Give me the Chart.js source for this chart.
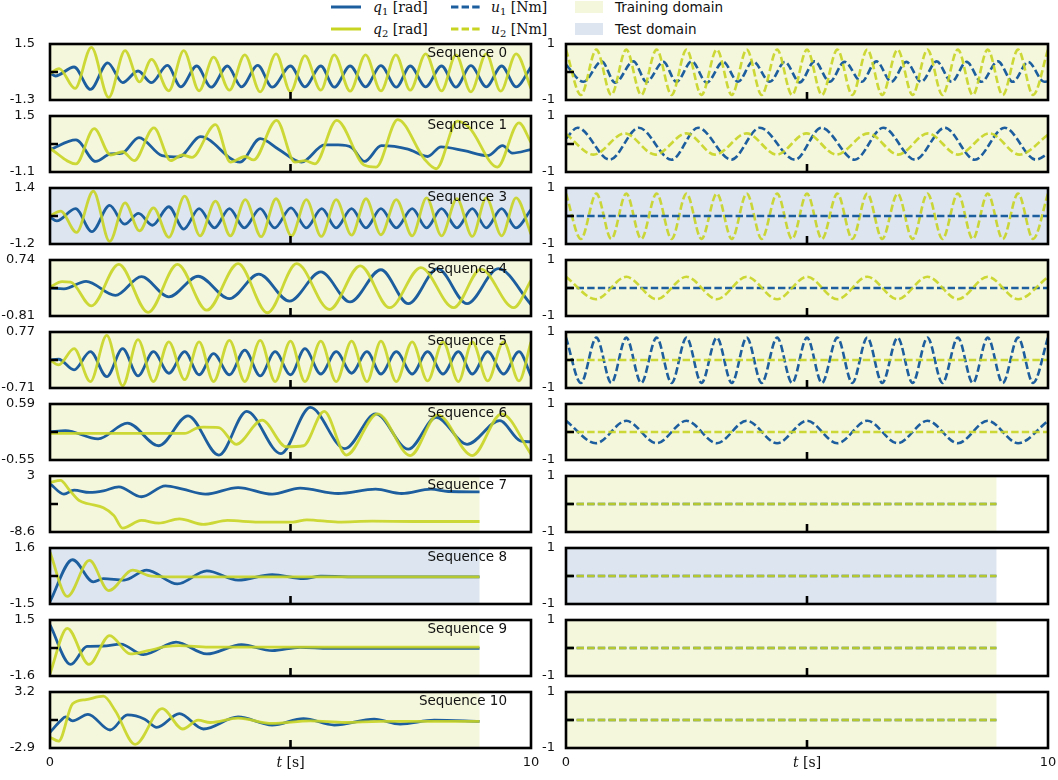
<!DOCTYPE html>
<html lang="en">
<head>
<meta charset="UTF-8">
<title>Double pendulum sequences</title>
<script src="https://cdn.jsdelivr.net/npm/chart.js@4.4.0/dist/chart.umd.min.js"></script>
<style>
    body {
        margin: 0;
        width: 1058px;
        height: 780px;
        position: relative;
        overflow: hidden;
        background: #fff;
        font-family: 'DejaVu Sans', sans-serif;
    }
    canvas { position: absolute; }
    .leg {
        position: absolute;
        height: 16px;
        line-height: 16px;
        font-size: 13.5px;
        color: #111;
        white-space: nowrap;
    }
    .math { font-family: 'DejaVu Serif', serif; font-size: 14px; }
    .math sub { font-size: 10px; vertical-align: -3px; line-height: 0; }
    .sw { position: absolute; }
    .box { position: absolute; width: 28px; height: 12px; }
</style>
</head>
<body>
<!-- legend -->
<svg class="sw" style="left:331px;top:5px" width="30" height="4"><line x1="0" y1="2" x2="30" y2="2" stroke="#1c5e9e" stroke-width="3"/></svg>
<div class="leg math" style="left:373px;top:-1px"><i>q</i><sub>1</sub> [rad]</div>
<svg class="sw" style="left:451px;top:5px" width="30" height="4"><line x1="0" y1="2" x2="30" y2="2" stroke="#1c5e9e" stroke-width="3" stroke-dasharray="7.4 3.2"/></svg>
<div class="leg math" style="left:491px;top:-1px"><i>u</i><sub>1</sub> [Nm]</div>
<div class="box" style="left:575px;top:1px;background:#f5f7dc"></div>
<div class="leg" style="left:615px;top:-1px">Training domain</div>

<svg class="sw" style="left:331px;top:27px" width="30" height="4"><line x1="0" y1="2" x2="30" y2="2" stroke="#c8d422" stroke-width="3"/></svg>
<div class="leg math" style="left:373px;top:21px"><i>q</i><sub>2</sub> [rad]</div>
<svg class="sw" style="left:451px;top:27px" width="30" height="4"><line x1="0" y1="2" x2="30" y2="2" stroke="#c8d422" stroke-width="3" stroke-dasharray="7.4 3.2"/></svg>
<div class="leg math" style="left:491px;top:21px"><i>u</i><sub>2</sub> [Nm]</div>
<div class="box" style="left:575px;top:23px;background:#dde6f0"></div>
<div class="leg" style="left:615px;top:21px">Test domain</div>

<script>
    // ---- data (t [s], value) ----
    const seqNames = ['Sequence 0', 'Sequence 1', 'Sequence 3', 'Sequence 4', 'Sequence 5',
                      'Sequence 6', 'Sequence 7', 'Sequence 8', 'Sequence 9', 'Sequence 10'];
    const domains = ['train', 'train', 'test', 'train', 'train', 'train', 'train', 'test', 'train', 'train'];
    const tEnd = [10, 10, 10, 10, 10, 10, 8.93, 8.93, 8.93, 8.93];
    const qMax = [1.5, 1.5, 1.4, 0.74, 0.77, 0.59, 3, 1.6, 1.5, 3.2];
    const qMin = [-1.3, -1.1, -1.2, -0.81, -0.71, -0.55, -8.6, -1.5, -1.6, -2.9];
    const uMax = 1;
    const uMin = -1;

    const q1Seq0 = [[0,0.05],[0.11,-0.10],[0.50,0.35],[0.84,-0.77],[1.20,0.56],[1.51,-0.43],[1.83,0.15],[2.11,-0.43],[2.44,0.43],[2.72,-0.64],[3.05,0.40],[3.35,-0.66],[3.69,0.40],[3.98,-0.64],[4.32,0.43],[4.62,-0.66],[5.00,0.40],[5.30,-0.64],[5.63,0.40],[5.91,-0.66],[6.24,0.40],[6.56,-0.64],[6.88,0.42],[7.20,-0.66],[7.49,0.40],[7.81,-0.64],[8.14,0.40],[8.44,-0.66],[8.75,0.42],[9.07,-0.64],[9.39,0.40],[9.69,-0.64],[10,0.35]];
    const q2Seq0 = [[0,0.02],[0.19,0.27],[0.52,-0.72],[0.86,1.33],[1.22,-1.17],[1.56,1.17],[1.86,-0.39],[2.11,0.73],[2.47,-0.84],[2.78,1.17],[3.10,-0.84],[3.40,0.84],[3.73,-0.81],[4.05,0.96],[4.37,-0.89],[4.70,1.01],[5.00,-0.89],[5.30,0.92],[5.63,-0.81],[5.91,0.96],[6.24,-0.86],[6.56,0.96],[6.88,-0.84],[7.19,0.96],[7.49,-0.81],[7.81,1.01],[8.14,-0.84],[8.44,0.96],[8.75,-0.89],[9.07,1.01],[9.37,-0.86],[9.69,1.01],[10,-0.72]];

    const q1Seq1 = [[0,-0.06],[0.54,0.39],[0.95,-0.61],[1.26,-0.26],[1.50,-0.22],[1.85,0.50],[2.33,-0.34],[2.68,-0.40],[3.13,0.54],[3.95,-0.64],[4.37,0.45],[4.75,-0.04],[5.23,-0.64],[5.71,0.16],[5.99,0.16],[6.27,0.04],[6.54,-0.61],[6.89,0.12],[7.44,-0.04],[7.85,-0.38],[8.13,0.07],[8.61,-0.11],[9.10,-0.34],[9.41,0.12],[9.61,-0.22],[10,-0.06]];
    const q2Seq1 = [[0,-0.01],[0.54,-0.72],[0.92,0.91],[1.26,-0.31],[1.51,-0.16],[1.75,-0.57],[2.16,0.95],[2.51,-0.57],[2.75,-0.31],[2.95,-0.42],[3.44,1.10],[3.75,-0.64],[4.06,-0.38],[4.23,-0.54],[4.71,1.30],[5.09,-0.64],[5.30,-0.57],[5.51,-0.72],[5.96,1.30],[6.54,-0.79],[6.78,-0.87],[7.23,1.33],[7.78,-0.49],[8.03,-0.95],[8.47,1.26],[8.72,0.95],[9.30,-0.87],[9.75,1.18],[10,0.27]];

    const q1Seq3 = [[0,0.05],[0.14,-0.13],[0.53,0.44],[0.87,-0.63],[1.24,0.59],[1.55,-0.28],[1.84,0.22],[2.13,-0.33],[2.47,0.53],[2.78,-0.51],[3.10,0.44],[3.42,-0.45],[3.73,0.44],[4.04,-0.45],[4.37,0.44],[4.67,-0.45],[5.01,0.48],[5.33,-0.45],[5.65,0.44],[5.95,-0.45],[6.27,0.44],[6.57,-0.45],[6.88,0.44],[7.20,-0.45],[7.53,0.44],[7.83,-0.45],[8.14,0.44],[8.46,-0.45],[8.78,0.44],[9.07,-0.45],[9.39,0.44],[9.69,-0.45],[10,0.40]];
    const q2Seq3 = [[0,0.10],[0.22,0.33],[0.55,-0.66],[0.90,1.25],[1.24,-1.08],[1.56,0.71],[1.86,-0.59],[2.15,0.48],[2.47,-0.89],[2.80,1.02],[3.12,-0.82],[3.44,0.79],[3.75,-0.82],[4.06,0.86],[4.39,-0.86],[4.70,0.90],[5.02,-0.82],[5.33,0.86],[5.64,-0.85],[5.95,0.86],[6.27,-0.79],[6.57,0.90],[6.88,-0.77],[7.20,0.86],[7.53,-0.82],[7.83,0.94],[8.14,-0.82],[8.46,0.90],[8.78,-0.85],[9.07,0.94],[9.39,-0.82],[9.69,0.94],[10,-0.74]];

    const q1Seq4 = [[0,-0.04],[0.29,-0.06],[0.75,0.15],[1.36,-0.24],[1.90,0.28],[2.47,-0.28],[3.08,0.29],[3.73,-0.33],[4.34,0.35],[4.98,-0.40],[5.63,0.41],[6.24,-0.42],[6.88,0.47],[7.45,-0.47],[8.06,0.50],[8.67,-0.47],[9.32,0.50],[10,-0.49]];
    const q2Seq4 = [[0,-0.01],[0.25,0.14],[0.43,0.13],[0.86,-0.53],[1.43,0.62],[2.04,-0.71],[2.65,0.62],[3.26,-0.65],[3.91,0.64],[4.52,-0.72],[5.13,0.64],[5.81,-0.63],[6.45,0.58],[7.06,-0.58],[7.71,0.53],[8.39,-0.58],[8.96,0.49],[9.64,-0.58],[10,0.17]];

    const q1Seq5 = [[0,0.03],[0.18,0.05],[0.50,-0.23],[0.84,0.25],[1.18,-0.41],[1.51,0.33],[1.83,-0.39],[2.15,0.25],[2.47,-0.32],[2.80,0.25],[3.10,-0.36],[3.40,0.20],[3.73,-0.36],[4.05,0.29],[4.37,-0.39],[4.68,0.25],[5.00,-0.36],[5.30,0.33],[5.63,-0.34],[5.95,0.25],[6.27,-0.32],[6.59,0.25],[6.88,-0.34],[7.20,0.25],[7.53,-0.34],[7.85,0.25],[8.17,-0.34],[8.49,0.25],[8.78,-0.34],[9.10,0.25],[9.43,-0.34],[9.75,0.25],[10,-0.39]];
    const q2Seq5 = [[0,0.03],[0.18,-0.10],[0.50,0.33],[0.84,-0.54],[1.18,0.68],[1.51,-0.65],[1.83,0.57],[2.15,-0.54],[2.47,0.51],[2.80,-0.49],[3.10,0.51],[3.40,-0.54],[3.73,0.55],[4.05,-0.54],[4.37,0.55],[4.68,-0.54],[5.00,0.53],[5.30,-0.54],[5.63,0.53],[5.95,-0.54],[6.27,0.53],[6.59,-0.54],[6.88,0.53],[7.20,-0.54],[7.53,0.51],[7.85,-0.52],[8.17,0.51],[8.49,-0.54],[8.78,0.51],[9.10,-0.52],[9.43,0.51],[9.75,-0.52],[10,0.51]];

    const q1Seq6 = [[0,0.02],[0.32,0.05],[1.00,-0.12],[1.61,0.20],[2.26,-0.26],[2.87,0.35],[3.51,-0.45],[4.09,0.44],[4.80,-0.42],[5.41,0.52],[6.13,-0.32],[6.77,0.39],[7.45,-0.33],[8.03,0.32],[8.67,-0.23],[9.35,0.25],[9.78,-0.16],[10,-0.18]];
    const q2Seq6 = [[0,-0.01],[1.00,-0.01],[2.00,-0.01],[2.80,-0.01],[3.05,0.10],[3.19,0.12],[3.51,0.11],[3.87,-0.23],[4.41,0.26],[4.91,-0.28],[5.27,-0.26],[5.70,0.44],[6.16,-0.45],[6.81,0.39],[7.49,-0.46],[8.06,0.37],[8.78,-0.46],[9.39,0.39],[10,-0.43]];

    const q1Seq7 = [[0,1.43],[0.29,-0.75],[0.50,0.07],[0.82,-0.41],[1.11,-0.07],[1.43,0.75],[1.90,-1.30],[2.40,0.95],[2.76,0.27],[3.23,-0.75],[3.91,0.61],[4.62,-0.75],[5.20,0.48],[5.99,-0.62],[6.77,0.27],[7.31,-0.62],[7.92,0.27],[8.28,-0.21],[8.93,-0.28]];
    const q2Seq7 = [[0,1.64],[0.22,2.11],[0.39,0.27],[0.61,-2.12],[0.82,-2.80],[1.11,-3.60],[1.33,-5.20],[1.51,-7.80],[1.90,-6.21],[2.26,-6.76],[2.69,-5.87],[3.19,-7.03],[3.69,-6.21],[4.34,-6.55],[5.05,-6.55],[5.34,-6.08],[5.99,-6.55],[6.70,-6.35],[7.56,-6.42],[8.93,-6.42]];

    const q1Seq8 = [[0,-1.36],[0.47,0.95],[0.90,-0.27],[1.11,-0.09],[1.54,-0.18],[2.01,0.37],[2.65,-0.39],[3.26,0.33],[3.91,-0.18],[4.62,0.13],[5.27,-0.09],[5.63,0.04],[6.50,0.00],[8.93,0.00]];
    const q2Seq8 = [[0,1.36],[0.36,-1.08],[0.82,0.91],[1.22,-0.76],[1.72,0.37],[2.11,0.04],[2.54,0.00],[8.93,0.00]];

    const q1Seq9 = [[0,1.23],[0.43,-0.96],[0.77,0.04],[1.10,0.06],[1.47,0.17],[1.94,-0.42],[2.62,0.28],[3.26,-0.38],[3.98,0.13],[4.62,-0.20],[5.20,-0.01],[5.80,-0.07],[8.93,-0.07]];
    const q2Seq9 = [[0,-1.47],[0.36,1.04],[0.81,-0.96],[1.24,0.64],[1.67,-0.38],[2.04,-0.20],[2.40,0.02],[2.69,0.08],[3.30,0.00],[8.93,0.00]];

    const q1Seq10 = [[0,-1.19],[0.22,0.06],[0.32,0.49],[0.47,0.06],[0.79,0.77],[1.25,-0.94],[1.61,0.70],[1.97,0.24],[2.22,-0.65],[2.69,0.85],[3.19,-0.83],[3.91,0.49],[4.62,-0.40],[5.27,0.31],[5.91,-0.40],[6.74,0.24],[7.28,-0.30],[7.99,0.13],[8.93,-0.01]];
    const q2Seq10 = [[0,-1.72],[0.18,-2.15],[0.47,1.92],[0.75,2.38],[1.11,2.74],[1.36,1.13],[1.77,-2.51],[2.33,1.38],[2.76,-0.83],[3.08,0.13],[3.33,-0.12],[3.91,0.35],[4.62,-0.22],[5.41,0.06],[6.13,-0.12],[6.85,-0.01],[8.93,-0.01]];

    // inputs
    const u1Seq0 = [[0,0.26],[0.36,-0.35],[0.74,0.38],[1.02,-0.38],[1.40,0.38],[1.67,-0.35],[2.02,0.36],[2.29,-0.35],[2.61,0.38],[2.92,-0.38],[3.26,0.36],[3.57,-0.35],[3.88,0.38],[4.23,-0.35],[4.54,0.36],[4.85,-0.37],[5.16,0.38],[5.47,-0.35],[5.78,0.36],[6.13,-0.35],[6.44,0.38],[6.75,-0.35],[7.06,0.36],[7.37,-0.35],[7.69,0.38],[8.00,-0.35],[8.31,0.36],[8.62,-0.35],[8.96,0.38],[9.27,-0.35],[9.59,0.36],[9.92,-0.35],[10,-0.33]];
    const uFast = [[0,0.80],[0.31,-0.82],[0.63,0.80],[0.94,-0.82],[1.25,0.80],[1.56,-0.82],[1.88,0.80],[2.19,-0.82],[2.50,0.80],[2.81,-0.82],[3.13,0.80],[3.44,-0.82],[3.75,0.80],[4.06,-0.82],[4.38,0.80],[4.69,-0.82],[5.00,0.80],[5.31,-0.82],[5.63,0.80],[5.94,-0.82],[6.25,0.80],[6.56,-0.82],[6.88,0.80],[7.19,-0.82],[7.50,0.80],[7.81,-0.82],[8.13,0.80],[8.44,-0.82],[8.75,0.80],[9.06,-0.82],[9.38,0.80],[9.69,-0.82],[10,0.80]];
    const uSlow = [[0,0.40],[0.62,-0.40],[1.25,0.40],[1.88,-0.40],[2.50,0.40],[3.13,-0.40],[3.75,0.40],[4.38,-0.40],[5.00,0.40],[5.63,-0.40],[6.25,0.40],[6.88,-0.40],[7.50,0.40],[8.13,-0.40],[8.75,0.40],[9.38,-0.40],[10,0.40]];
    const u1Seq1 = [[0,0.20],[0.24,0.58],[0.91,-0.56],[1.51,0.58],[2.19,-0.56],[2.74,0.58],[3.43,-0.56],[4.02,0.58],[4.75,-0.56],[5.30,0.58],[5.99,-0.56],[6.58,0.58],[7.24,-0.56],[7.86,0.58],[8.48,-0.56],[9.10,0.58],[9.75,-0.56],[10,-0.35]];
    const u2Seq1 = [[0,0.36],[0.57,-0.38],[1.22,0.38],[1.85,-0.38],[2.50,0.38],[3.09,-0.38],[3.75,0.38],[4.37,-0.38],[4.99,0.38],[5.61,-0.38],[6.27,0.38],[6.89,-0.38],[7.51,0.38],[8.13,-0.38],[8.79,0.38],[9.41,-0.38],[10,0.33]];
    const zeroFull = [[0,0],[10,0]];
    const zeroShort = [[0,0],[8.93,0]];

    const q1 = [q1Seq0, q1Seq1, q1Seq3, q1Seq4, q1Seq5, q1Seq6, q1Seq7, q1Seq8, q1Seq9, q1Seq10];
    const q2 = [q2Seq0, q2Seq1, q2Seq3, q2Seq4, q2Seq5, q2Seq6, q2Seq7, q2Seq8, q2Seq9, q2Seq10];
    const u1 = [u1Seq0, u1Seq1, zeroFull, zeroFull, uFast, uSlow, zeroShort, zeroShort, zeroShort, zeroShort];
    const u2 = [uFast, u2Seq1, uFast, uSlow, zeroFull, zeroFull, zeroShort, zeroShort, zeroShort, zeroShort];
    const u1OnTop = [false, false, true, false, false, false, false, false, false, false];

    // ---- styling ----
    const BLUE = '#1c5e9e';
    const YELLOW = 'rgba(200,212,34,0.9)';
    const FILL = { train: '#f5f7dc', test: '#dde6f0' };
    const DASH = [7.4, 3.2];
    const tickFont = { family: 'DejaVu Sans', size: 13 };

    const panelPlugin = {
        id: 'panel',
        beforeDatasetsDraw(chart, args, opts) {
            const { ctx, chartArea: a, scales: { x } } = chart;
            const x0 = x.getPixelForValue(0);
            const x1 = x.getPixelForValue(opts.tEnd);
            ctx.save();
            ctx.fillStyle = opts.fill;
            ctx.fillRect(x0, a.top, x1 - x0, a.bottom - a.top);
            ctx.restore();
        },
        afterDatasetsDraw(chart, args, opts) {
            const { ctx, chartArea: a, scales: { x, y } } = chart;
            ctx.save();
            ctx.strokeStyle = '#000';
            ctx.lineWidth = 2.6;
            ctx.strokeRect(a.left, a.top, a.right - a.left, a.bottom - a.top);
            // inward middle ticks
            const ym = y.getPixelForValue((opts.min + opts.max) / 2);
            const xm = x.getPixelForValue(5);
            ctx.beginPath();
            ctx.moveTo(a.left, ym);
            ctx.lineTo(a.left + 8, ym);
            ctx.moveTo(xm, a.bottom);
            ctx.lineTo(xm, a.bottom - 8);
            ctx.stroke();
            ctx.fillStyle = '#111';
            if (opts.title) {
                ctx.font = '13.5px "DejaVu Sans"';
                ctx.textAlign = 'right';
                ctx.textBaseline = 'alphabetic';
                ctx.fillText(opts.title, a.right - 24, a.top + 12.5);
            }
            if (opts.xTitle) {
                ctx.textBaseline = 'middle';
                ctx.textAlign = 'left';
                ctx.font = 'italic 14px "DejaVu Serif"';
                const w1 = ctx.measureText('t').width;
                ctx.font = '14px "DejaVu Serif"';
                const w2 = ctx.measureText(' [s]').width;
                const sx = xm - (w1 + w2) / 2;
                const ty = a.bottom + 15;
                ctx.font = 'italic 14px "DejaVu Serif"';
                ctx.fillText('t', sx, ty);
                ctx.font = '14px "DejaVu Serif"';
                ctx.fillText(' [s]', sx + w1, ty);
            }
            ctx.restore();
        }
    };

    const toXY = pts => pts.map(p => ({ x: p[0], y: p[1] }));

    function makePanel(col, k) {
        const isBottom = k === 9;
        const left = col === 0 ? 0 : 540;
        const width = col === 0 ? 540 : 518;
        const top = 44 + 72 * k - 10;
        const height = isBottom ? 780 - top : 76;
        const canvas = document.createElement('canvas');
        canvas.width = width;
        canvas.height = height;
        canvas.style.left = left + 'px';
        canvas.style.top = top + 'px';
        document.body.appendChild(canvas);

        const min = col === 0 ? qMin[k] : uMin;
        const max = col === 0 ? qMax[k] : uMax;

        let datasets;
        if (col === 0) {
            datasets = [
                { data: toXY(q1[k]), borderColor: BLUE, borderWidth: 2.8, order: 2 },
                { data: toXY(q2[k]), borderColor: YELLOW, borderWidth: 2.8, order: 1 }
            ];
        } else {
            datasets = [
                { data: toXY(u1[k]), borderColor: BLUE, borderWidth: 2.6, borderDash: DASH, order: u1OnTop[k] ? 1 : 2 },
                { data: toXY(u2[k]), borderColor: YELLOW, borderWidth: 2.6, borderDash: DASH, order: u1OnTop[k] ? 2 : 1 }
            ];
        }
        datasets.forEach(d => {
            d.pointRadius = 0;
            d.fill = false;
            d.cubicInterpolationMode = 'monotone';
        });

        new Chart(canvas, {
            type: 'line',
            data: { datasets },
            options: {
                responsive: false,
                animation: false,
                devicePixelRatio: 1,
                events: [],
                layout: {
                    autoPadding: false,
                    padding: { top: 10, bottom: isBottom ? 0 : 10, left: 0, right: col === 0 ? 9 : 10 }
                },
                scales: {
                    x: {
                        type: 'linear',
                        min: 0,
                        max: 10,
                        display: isBottom,
                        afterFit: s => {
                            s.height = isBottom ? 32 : 0;
                            s.paddingLeft = 0;
                            s.paddingRight = 0;
                        },
                        afterBuildTicks: s => { s.ticks = [{ value: 0 }, { value: 5 }, { value: 10 }]; },
                        ticks: {
                            autoSkip: false,
                            maxRotation: 0,
                            padding: 7,
                            color: '#111',
                            font: tickFont,
                            callback: v => (v === 5 ? '' : String(v))
                        },
                        grid: { display: false, drawTicks: false },
                        border: { display: false }
                    },
                    y: {
                        type: 'linear',
                        min,
                        max,
                        afterFit: s => {
                            s.width = col === 0 ? 50 : 26;
                            s.paddingTop = 0;
                            s.paddingBottom = 0;
                        },
                        afterBuildTicks: s => { s.ticks = [{ value: min }, { value: (min + max) / 2 }, { value: max }]; },
                        ticks: {
                            autoSkip: false,
                            padding: col === 0 ? 15 : 11,
                            color: '#111',
                            font: tickFont,
                            callback: (v, i) => (i === 1 ? '' : String(v))
                        },
                        grid: { display: false, drawTicks: false },
                        border: { display: false }
                    }
                },
                plugins: {
                    legend: { display: false },
                    tooltip: { enabled: false },
                    panel: {
                        tEnd: tEnd[k],
                        fill: FILL[domains[k]],
                        min,
                        max,
                        title: col === 0 ? seqNames[k] : '',
                        xTitle: isBottom
                    }
                }
            },
            plugins: [panelPlugin]
        });
    }

    for (let k = 0; k < 10; k++) {
        makePanel(0, k);
        makePanel(1, k);
    }
</script>
</body>
</html>
